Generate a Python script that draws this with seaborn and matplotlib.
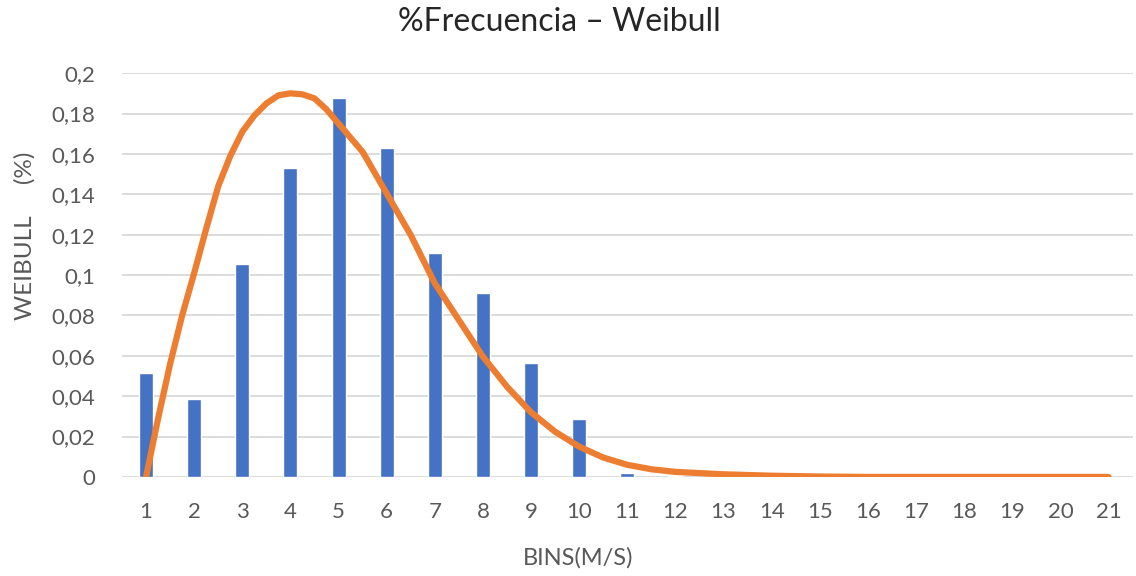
import matplotlib
matplotlib.use("Agg")
import matplotlib.pyplot as plt
import seaborn as sns
import pandas as pd

# Observed frequency per wind-speed bin (m/s)
bins = list(range(1, 22))
frecuencia = [0.0513, 0.0386, 0.1056, 0.1528, 0.1878, 0.1627, 0.1110, 0.0912,
              0.0566, 0.0289, 0.0018, 0.0003, 0, 0, 0, 0, 0, 0, 0, 0, 0]

# Fitted Weibull curve, sampled finely where it bends the most
weibull_x = [1, 1.25, 1.5, 1.75, 2, 2.25, 2.5, 2.75, 3, 3.25, 3.5, 3.75, 4,
             4.25, 4.5, 4.75, 5, 5.5, 6, 6.5, 7, 7.5, 8, 8.5, 9, 9.5, 10,
             10.5, 11, 11.5, 12, 13, 14, 15, 16, 17, 18, 19, 20, 21]
weibull_y = [0.0, 0.029, 0.056, 0.080, 0.101, 0.123, 0.144, 0.159, 0.171,
             0.179, 0.185, 0.189, 0.190, 0.1895, 0.1875, 0.182, 0.175,
             0.161, 0.1404, 0.1198, 0.0959, 0.0777, 0.0596, 0.0447, 0.032,
             0.0224, 0.015, 0.0096, 0.006, 0.0038, 0.0025, 0.0013, 0.0006,
             0.0002, 0, 0, 0, 0, 0, 0]

y_ticks = [0, 0.02, 0.04, 0.06, 0.08, 0.10, 0.12, 0.14, 0.16, 0.18, 0.20]
y_tick_labels = ["0", "0,02", "0,04", "0,06", "0,08", "0,1", "0,12", "0,14",
                 "0,16", "0,18", "0,2"]

sns.set_style("white")
plt.rcParams["font.family"] = ["Lato", "DejaVu Sans"]

grey = "#595959"
fig = plt.figure(figsize=(11.36, 5.76), dpi=100)
ax = fig.add_axes([0.1074, 0.172, 0.8896, 0.701])

df_bars = pd.DataFrame({"bin": bins, "frecuencia": frecuencia})
df_curve = pd.DataFrame({"x": weibull_x, "weibull": weibull_y})

sns.barplot(data=df_bars, x="bin", y="frecuencia", native_scale=True,
            width=0.29, color="#4472C4", saturation=1, ax=ax, zorder=2)
sns.lineplot(data=df_curve, x="x", y="weibull", color="#ED7D31",
             linewidth=4.5, ax=ax, zorder=3, solid_capstyle="round",
             solid_joinstyle="round")

ax.set_xlim(0.5, 21.5)
ax.set_ylim(0, 0.2)
ax.set_xticks(bins)
ax.set_xticklabels([str(b) for b in bins])
ax.set_yticks(y_ticks)
ax.set_yticklabels(y_tick_labels)
ax.yaxis.grid(True, color="#D9D9D9", linewidth=1.3, zorder=0)
ax.set_axisbelow(True)
for s in ax.spines.values():
    s.set_visible(False)
ax.tick_params(axis="both", length=0, labelsize=16, colors=grey)
ax.tick_params(axis="y", pad=19)
ax.tick_params(axis="x", pad=18)

ax.set_xlabel("BINS(M/S)", fontsize=17, color=grey)
ax.xaxis.set_label_coords(0.451, -0.2, transform=ax.transAxes)
ax.xaxis.label.set_va("center")
ax.set_ylabel("WEIBULL     (%)", fontsize=17.5, color=grey)
ax.yaxis.set_label_coords(-0.0965, 0.597, transform=ax.transAxes)
ax.yaxis.label.set_va("center")

fig.text(0.492, 0.962, "%Frecuencia – Weibull", fontsize=23,
         color="#262626", ha="center", va="center")

fig.savefig("out.png", dpi=100)
